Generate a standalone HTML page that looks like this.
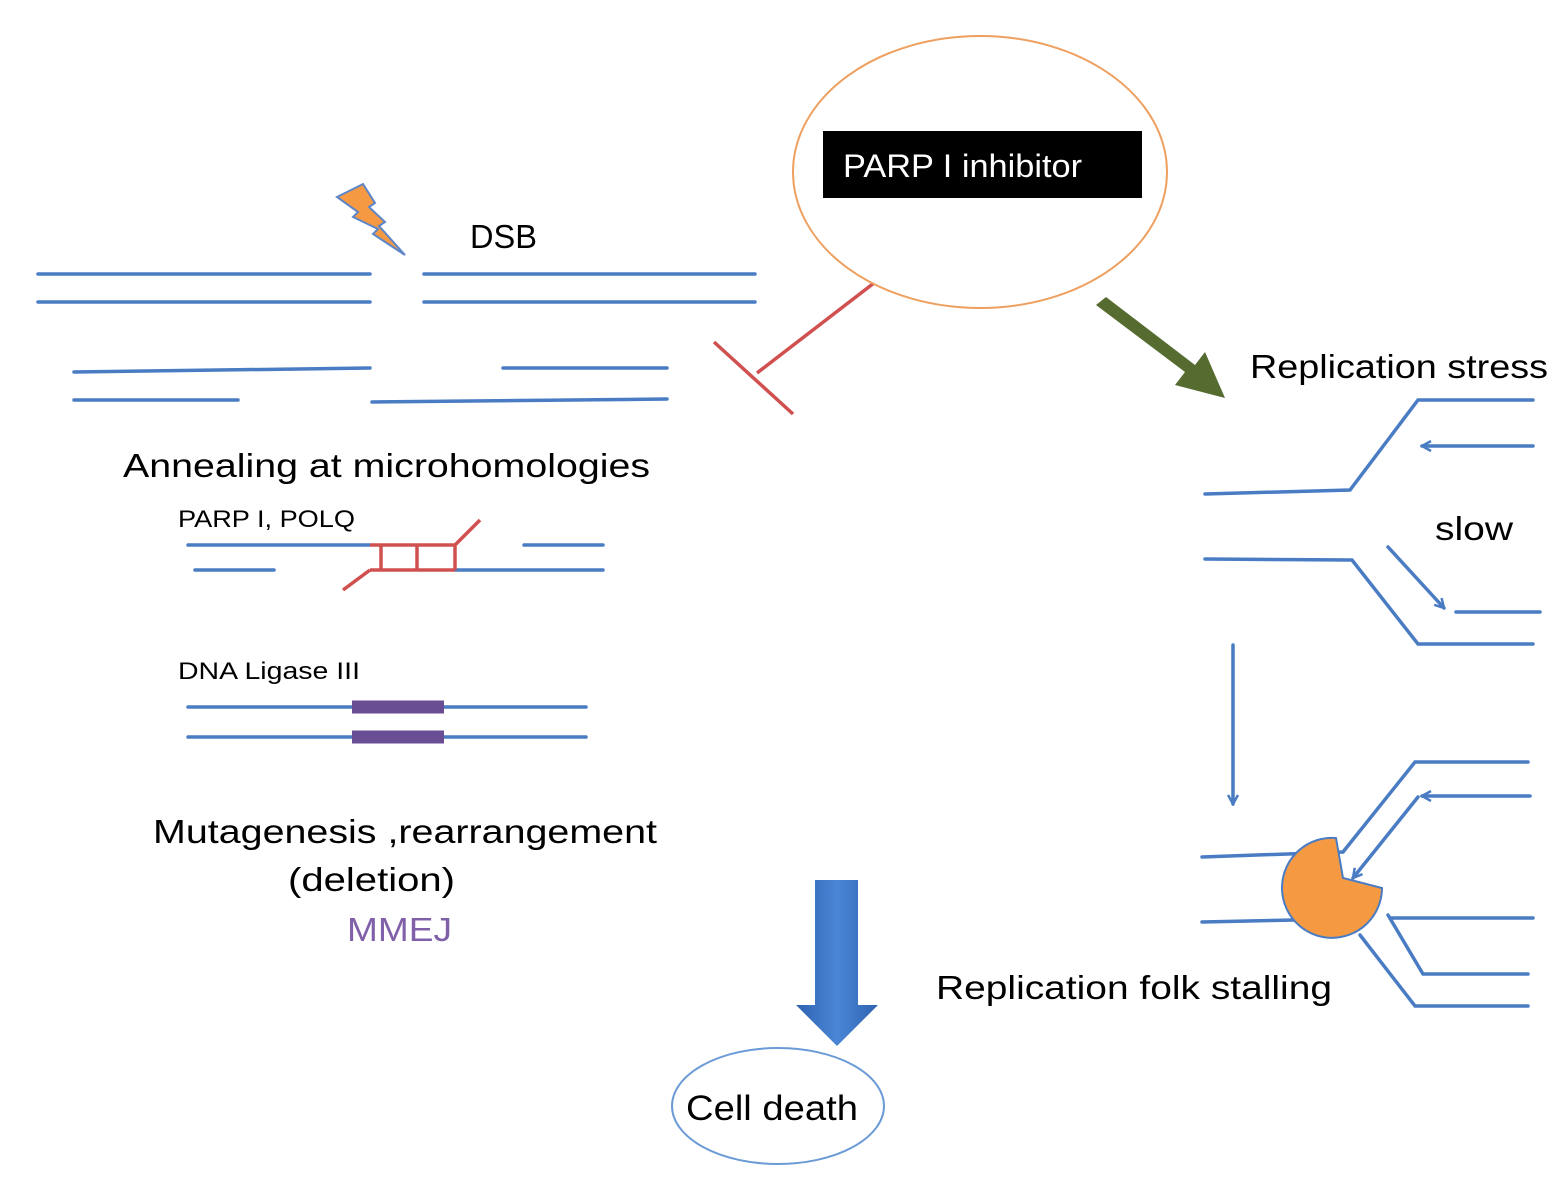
<!DOCTYPE html>
<html><head><meta charset="utf-8"><style>body{margin:0;background:#fff}svg{display:block}text{font-family:"Liberation Sans",sans-serif}</style></head><body>
<svg width="1561" height="1198" viewBox="0 0 1561 1198" xmlns="http://www.w3.org/2000/svg">
<defs>
<marker id="ah" markerWidth="12" markerHeight="12" refX="10" refY="6" orient="auto" markerUnits="userSpaceOnUse"><path d="M1,1 L10,6 L1,11" fill="none" stroke="#4a7cc4" stroke-width="2.5"/></marker>
<linearGradient id="bg" x1="0" x2="1"><stop offset="0" stop-color="#2e63b0"/><stop offset="0.5" stop-color="#4a86d6"/><stop offset="1" stop-color="#2e63b0"/></linearGradient>
</defs>
<g stroke="#4a7cc4" stroke-width="3.5" fill="none" stroke-linecap="round">
<line x1="38" y1="274" x2="370" y2="274"/><line x1="38" y1="302" x2="370" y2="302"/>
<line x1="424" y1="274" x2="755" y2="274"/><line x1="424" y1="302" x2="755" y2="302"/>
<line x1="74" y1="372" x2="370" y2="368"/><line x1="74" y1="400" x2="238" y2="400"/>
<line x1="503" y1="368" x2="667" y2="368"/><line x1="372" y1="402" x2="667" y2="399"/>
<line x1="188" y1="545" x2="370" y2="545"/><line x1="195" y1="570" x2="274" y2="570"/>
<line x1="524" y1="545" x2="603" y2="545"/><line x1="455" y1="570" x2="603" y2="570"/>
<line x1="188" y1="707" x2="586" y2="707"/><line x1="188" y1="737" x2="586" y2="737"/>
<polyline points="1205,494 1350,490 1418,400 1533,400"/>
<line x1="1533" y1="446" x2="1422" y2="446" marker-end="url(#ah)"/>
<polyline points="1205,559 1352,560 1418,644 1533,644"/>
<line x1="1388" y1="547" x2="1444" y2="608" marker-end="url(#ah)"/>
<line x1="1456" y1="612" x2="1540" y2="612"/>
<line x1="1233" y1="645" x2="1233" y2="804" marker-end="url(#ah)"/>
<polyline points="1202,857 1343,852 1415,762 1528,762"/>
<line x1="1530" y1="796" x2="1422" y2="796" marker-end="url(#ah)"/>
<line x1="1418" y1="797" x2="1353" y2="878" marker-end="url(#ah)"/>
<line x1="1202" y1="922" x2="1295" y2="920"/>
<polyline points="1390,918 1533,918"/>
<polyline points="1388,915 1423,974 1528,974"/>
<polyline points="1360,935 1415,1006 1528,1006"/>
</g>
<g stroke="#d05050" stroke-width="3.5" fill="none">
<line x1="370" y1="545" x2="455" y2="545"/><line x1="370" y1="570" x2="455" y2="570"/>
<polyline points="343,590 370,570"/><polyline points="455,545 480,520"/>
<line x1="381" y1="545" x2="381" y2="570"/><line x1="417" y1="545" x2="417" y2="570"/><line x1="455" y1="545" x2="455" y2="570"/>
<line x1="874" y1="283" x2="757" y2="373"/><line x1="714" y1="342" x2="793" y2="414"/>
</g>
<g stroke="#6a4e94" stroke-width="13"><line x1="352" y1="707" x2="444" y2="707"/><line x1="352" y1="737" x2="444" y2="737"/></g>
<ellipse cx="980" cy="172" rx="187" ry="136" fill="#fff" stroke="#eea060" stroke-width="2"/>
<rect x="823" y="131" width="319" height="67" fill="#000"/>
<text x="843" y="177" font-size="32" fill="#fff" textLength="239" lengthAdjust="spacingAndGlyphs">PARP I inhibitor</text>
<polygon points="337,197 363,184 375,203 369,207 385,222 379,226 405,255 373,234 378,229 353,217 358,212" fill="#f59a42" stroke="#5d86c8" stroke-width="2"/>
<text x="470" y="248" font-size="33" textLength="67" lengthAdjust="spacingAndGlyphs">DSB</text>
<text x="123" y="477" font-size="33" textLength="527" lengthAdjust="spacingAndGlyphs">Annealing at microhomologies</text>
<text x="178" y="527" font-size="24" textLength="177" lengthAdjust="spacingAndGlyphs">PARP I, POLQ</text>
<text x="178" y="679" font-size="24" textLength="182" lengthAdjust="spacingAndGlyphs">DNA Ligase III</text>
<text x="153" y="843" font-size="33" textLength="504" lengthAdjust="spacingAndGlyphs">Mutagenesis ,rearrangement</text>
<text x="288" y="891" font-size="33" textLength="167" lengthAdjust="spacingAndGlyphs">(deletion)</text>
<text x="347" y="941" font-size="33" fill="#8060a8" textLength="105" lengthAdjust="spacingAndGlyphs">MMEJ</text>
<text x="1250" y="378" font-size="33" textLength="298" lengthAdjust="spacingAndGlyphs">Replication stress</text>
<text x="1435" y="540" font-size="33" textLength="78" lengthAdjust="spacingAndGlyphs">slow</text>
<text x="936" y="999" font-size="33" textLength="396" lengthAdjust="spacingAndGlyphs">Replication folk stalling</text>
<path d="M1096,305 L1185,372 L1175,385 L1225,398 L1205,352 L1195,365 L1106,297 Z" fill="#556b2f"/>
<path d="M1336,838 L1343,878 L1382,888 A50,50 0 1 1 1336,838 Z" fill="#f59a42" stroke="#4a7cc4" stroke-width="2"/>
<polygon points="815,880 858,880 858,1005 878,1005 837,1046 796,1005 815,1005" fill="url(#bg)"/>
<ellipse cx="778" cy="1106" rx="106" ry="58" fill="#fff" stroke="#6b9bd6" stroke-width="2"/>
<text x="686" y="1120" font-size="35" textLength="172" lengthAdjust="spacingAndGlyphs">Cell death</text>
</svg>
</body></html>
